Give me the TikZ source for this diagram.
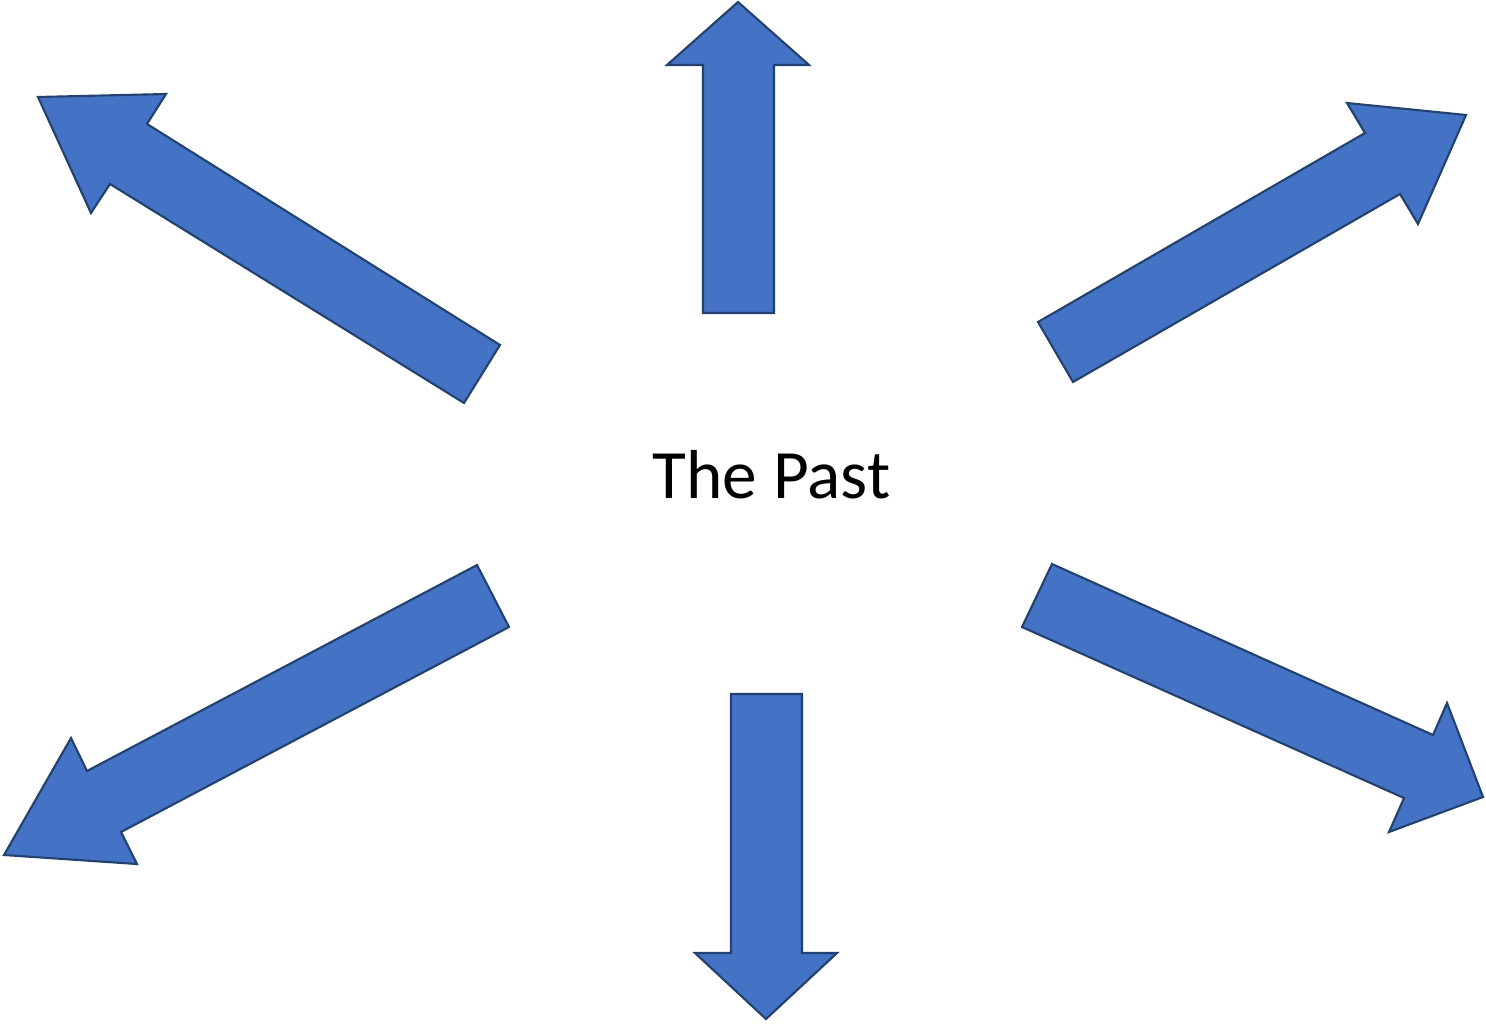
\documentclass[tikz,border=0pt]{standalone}
\usepackage{fontspec}
\setmainfont{Carlito}
\definecolor{arrowfill}{HTML}{4472C4}
\definecolor{arrowline}{HTML}{23416F}
\begin{document}
\begin{tikzpicture}[x=0.01cm,y=-0.01cm,
  blockarrow/.style={fill=arrowfill,draw=arrowline,line width=0.6pt,line join=miter}]
\useasboundingbox (0,0) rectangle (1486,1024);
% up
\draw[blockarrow] (703,313) -- (703,65) -- (667,65) -- (738,2) -- (809,65) -- (774,65) -- (774,313) -- cycle;
% down
\draw[blockarrow] (731,694) -- (731,953) -- (695,953) -- (766,1019) -- (837,953) -- (802,953) -- (802,694) -- cycle;
% upper left
\draw[blockarrow] (500,345) -- (147,124) -- (166,94) -- (38,97) -- (91,213) -- (110,184) -- (464,403) -- cycle;
% upper right
\draw[blockarrow] (1038,322) -- (1365,133) -- (1347,103) -- (1466,115) -- (1418,224) -- (1400,194) -- (1073,382) -- cycle;
% lower left
\draw[blockarrow] (477,565) -- (87,771) -- (71,738) -- (4,855) -- (137,864) -- (121,832) -- (509,627) -- cycle;
% lower right
\draw[blockarrow] (1052,564) -- (1433,735) -- (1447,703) -- (1483,797) -- (1389,832) -- (1404,798) -- (1022,627) -- cycle;
\node[inner sep=0pt,anchor=base] (title) at (771.5,498) {\fontsize{19.7pt}{24pt}\selectfont The Past};
\end{tikzpicture}
\end{document}
